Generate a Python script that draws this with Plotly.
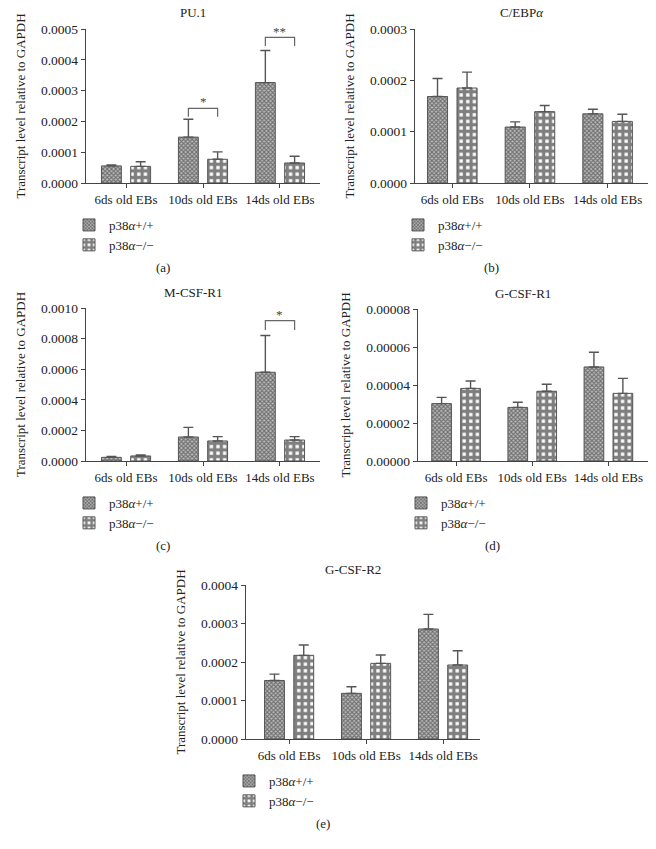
import plotly.graph_objects as go

# ---------------- data ----------------
categories = ["6ds old EBs", "10ds old EBs", "14ds old EBs"]
series_names = ["p38<i>α</i>+/+", "p38<i>α</i>−/−"]

pu1_wt = [0.0000555, 0.000149, 0.000326]
pu1_wt_err = [0.000003, 0.000058, 0.000104]
pu1_ko = [0.000054, 0.000077, 0.000065]
pu1_ko_err = [0.000015, 0.000024, 0.000022]

cebpa_wt = [0.0001685, 0.000109, 0.0001347]
cebpa_wt_err = [0.000035, 0.000010, 0.000009]
cebpa_ko = [0.000185, 0.000139, 0.000120]
cebpa_ko_err = [0.000031, 0.000012, 0.000014]

mcsfr1_wt = [0.000024, 0.000157, 0.000580]
mcsfr1_wt_err = [0.000006, 0.000063, 0.000240]
mcsfr1_ko = [0.000033, 0.000131, 0.000137]
mcsfr1_ko_err = [0.000007, 0.000028, 0.000022]

gcsfr1_wt = [0.0000302, 0.0000282, 0.0000495]
gcsfr1_wt_err = [0.0000033, 0.0000027, 0.0000077]
gcsfr1_ko = [0.0000382, 0.0000367, 0.0000356]
gcsfr1_ko_err = [0.0000039, 0.0000037, 0.0000079]

gcsfr2_wt = [0.000152, 0.0001186, 0.0002857]
gcsfr2_wt_err = [0.0000164, 0.0000173, 0.0000381]
gcsfr2_ko = [0.0002173, 0.0001965, 0.0001922]
gcsfr2_ko_err = [0.0000269, 0.0000217, 0.0000372]

panel_titles = ["PU.1", "C/EBP<i>α</i>", "M-CSF-R1", "G-CSF-R1", "G-CSF-R2"]
panel_letters = ["(a)", "(b)", "(c)", "(d)", "(e)"]
y_max = [0.0005, 0.0003, 0.0010, 0.00008, 0.0004]
y_dtick = [0.0001, 0.0001, 0.0002, 0.00002, 0.0001]
y_format = [".4f", ".4f", ".4f", ".5f", ".4f"]

# significance brackets: (panel index, category index, top y, drop y, label, label y)
brackets = [
    (0, 1, 0.0002425, 0.000215, "*", 0.000264),
    (0, 2, 0.000473, 0.000445, "**", 0.000492),
    (2, 2, 0.000917, 0.000856, "*", 0.000957),
]

wt_values = [pu1_wt, cebpa_wt, mcsfr1_wt, gcsfr1_wt, gcsfr2_wt]
wt_errors = [pu1_wt_err, cebpa_wt_err, mcsfr1_wt_err, gcsfr1_wt_err, gcsfr2_wt_err]
ko_values = [pu1_ko, cebpa_ko, mcsfr1_ko, gcsfr1_ko, gcsfr2_ko]
ko_errors = [pu1_ko_err, cebpa_ko_err, mcsfr1_ko_err, gcsfr1_ko_err, gcsfr2_ko_err]

# ---------------- layout geometry (pixels) ----------------
W, H = 656, 849
# plot boxes (pixels): left, right, top, bottom
boxes = [
    (86, 320, 29, 183),
    (415, 648, 29, 183),
    (86, 320, 308, 461),
    (418, 648, 309, 461),
    (246, 480, 585, 739),
]
x_ranges = [[-0.52, 2.52], [-0.48, 2.52], [-0.52, 2.52], [-0.5, 2.52], [-0.56, 2.48]]

SERIF = "Liberation Serif"
TEXT = "#222222"
AXC = "#444444"
BARGAP = 0.24
BAR_OFF = (1 - BARGAP) / 4


def px_x(x):
    return x / W


def px_y(y):
    return 1 - y / H


wt_style = dict(
    color="#999999",
    line=dict(color="#555555", width=1),
    pattern=dict(shape="x", size=3, solidity=0.6, fgcolor="#222222", bgcolor="#bdbdbd"),
)
ko_style = dict(
    color="white",
    line=dict(color="#555555", width=1),
    pattern=dict(shape="+", size=6.6, solidity=0.75, fgcolor="#000000", bgcolor="#ffffff"),
)

fig = go.Figure()
layout = dict(
    width=W,
    height=H,
    margin=dict(l=0, r=0, t=0, b=0, autoexpand=False),
    paper_bgcolor="white",
    plot_bgcolor="white",
    barmode="group",
    bargap=BARGAP,
    bargroupgap=0.32,
    font=dict(family=SERIF, size=13, color=TEXT),
    annotations=[],
    shapes=[],
)

for i in range(5):
    sfx = "" if i == 0 else str(i + 1)
    xa, ya = "x" + sfx, "y" + sfx
    leg = "legend" + sfx
    l, r, t, b = boxes[i]
    for name, vals, errs, style in [
        (series_names[0], wt_values[i], wt_errors[i], wt_style),
        (series_names[1], ko_values[i], ko_errors[i], ko_style),
    ]:
        fig.add_trace(
            go.Bar(
                x=categories,
                y=vals,
                name=name,
                xaxis=xa,
                yaxis=ya,
                legend=leg,
                showlegend=True,
                marker=style,
                error_y=dict(
                    type="data",
                    symmetric=False,
                    array=errs,
                    arrayminus=[0] * len(errs),
                    color="#555555",
                    thickness=1.4,
                    width=5,
                ),
            )
        )
    layout["xaxis" + sfx] = dict(
        domain=[px_x(l), px_x(r)],
        anchor=ya,
        type="category",
        categoryorder="array",
        categoryarray=categories,
        range=x_ranges[i],
        showline=True,
        linecolor=AXC,
        linewidth=1.2,
        ticks="outside",
        ticklen=4,
        tickcolor=AXC,
        tickfont=dict(family=SERIF, size=13, color=TEXT),
        showgrid=False,
        zeroline=False,
        automargin=False,
    )
    layout["yaxis" + sfx] = dict(
        domain=[px_y(b), px_y(t)],
        anchor=xa,
        range=[0, y_max[i]],
        dtick=y_dtick[i],
        tick0=0,
        tickformat=y_format[i],
        showline=True,
        linecolor=AXC,
        linewidth=1.2,
        ticks="outside",
        ticklen=4,
        tickcolor=AXC,
        tickfont=dict(family=SERIF, size=13.5, color=TEXT),
        showgrid=False,
        zeroline=False,
        automargin=False,
        title=dict(
            text="Transcript level relative to GAPDH",
            font=dict(family=SERIF, size=13, color=TEXT),
            standoff=12,
        ),
    )
    layout[leg] = dict(
        x=px_x(l - 17),
        y=px_y(b + 27),
        xanchor="left",
        yanchor="top",
        bgcolor="rgba(0,0,0,0)",
        font=dict(family=SERIF, size=13, color=TEXT),
        traceorder="normal",
        itemclick=False,
        tracegroupgap=0,
    )
    # subplot title
    layout["annotations"].append(
        dict(
            text=panel_titles[i],
            xref="paper",
            yref="paper",
            x=px_x((l + r) / 2 - 10),
            y=px_y(t - 16),
            xanchor="center",
            yanchor="middle",
            showarrow=False,
            font=dict(family=SERIF, size=13, color=TEXT),
        )
    )
    # panel letter
    layout["annotations"].append(
        dict(
            text=panel_letters[i],
            xref="paper",
            yref="paper",
            x=px_x((l + r) / 2 - 40),
            y=px_y(b + 84),
            xanchor="center",
            yanchor="middle",
            showarrow=False,
            font=dict(family=SERIF, size=13, color=TEXT),
        )
    )

for (p, c, ytop, ydrop, label, ylab) in brackets:
    sfx = "" if p == 0 else str(p + 1)
    xa, ya = "x" + sfx, "y" + sfx
    x0, x1 = c - BAR_OFF, c + BAR_OFF
    layout["shapes"].append(
        dict(
            type="path",
            xref=xa,
            yref=ya,
            path=f"M {x0},{ydrop} L {x0},{ytop} L {x1},{ytop} L {x1},{ydrop}",
            line=dict(color="#666666", width=1.2),
        )
    )
    layout["annotations"].append(
        dict(
            text=label,
            xref=xa,
            yref=ya,
            x=c,
            y=ylab,
            showarrow=False,
            xanchor="center",
            yanchor="middle",
            font=dict(family=SERIF, size=13, color="#444444"),
        )
    )

fig.update_layout(**layout)
fig.write_html(
    "out.html",
    config={"displayModeBar": False, "staticPlot": True},
    post_script="document.body.style.margin='0';document.body.style.overflow='hidden';",
)
